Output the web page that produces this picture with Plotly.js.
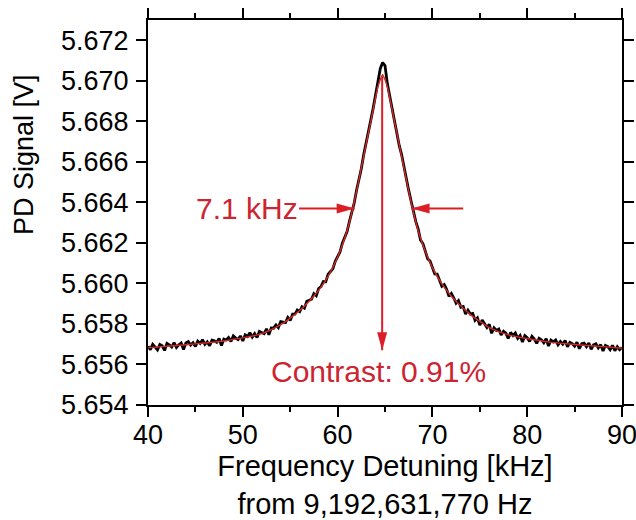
<!DOCTYPE html>
<html>
<head>
<meta charset="utf-8">
<script src="https://cdn.plot.ly/plotly-3.0.1.min.js"></script>
<style>
  html, body { margin: 0; padding: 0; background: #ffffff; }
  #chart { width: 636px; height: 520px; }
</style>
</head>
<body>
<div id="chart"></div>
<script>
// ---- measured data (black trace) ----
const freqKHz = [
  40,40.25,40.5,40.75,41,41.25,41.5,41.75,42,42.25,42.5,42.75,43,43.25,43.5,43.75,44,44.25,44.5,44.75,
  45,45.25,45.5,45.75,46,46.25,46.5,46.75,47,47.25,47.5,47.75,48,48.25,48.5,48.75,49,49.25,49.5,49.75,
  50,50.25,50.5,50.75,51,51.25,51.5,51.75,52,52.25,52.5,52.75,53,53.25,53.5,53.75,54,54.25,54.5,54.75,
  55,55.25,55.5,55.75,56,56.25,56.5,56.75,57,57.25,57.5,57.75,58,58.25,58.5,58.75,59,59.25,59.5,59.75,
  60,60.25,60.5,60.75,61,61.25,61.5,61.75,62,62.25,62.5,62.75,63,63.25,63.5,63.75,64,64.25,64.5,64.75,
  65,65.25,65.5,65.75,66,66.25,66.5,66.75,67,67.25,67.5,67.75,68,68.25,68.5,68.75,69,69.25,69.5,69.75,
  70,70.25,70.5,70.75,71,71.25,71.5,71.75,72,72.25,72.5,72.75,73,73.25,73.5,73.75,74,74.25,74.5,74.75,
  75,75.25,75.5,75.75,76,76.25,76.5,76.75,77,77.25,77.5,77.75,78,78.25,78.5,78.75,79,79.25,79.5,79.75,
  80,80.25,80.5,80.75,81,81.25,81.5,81.75,82,82.25,82.5,82.75,83,83.25,83.5,83.75,84,84.25,84.5,84.75,
  85,85.25,85.5,85.75,86,86.25,86.5,86.75,87,87.25,87.5,87.75,88,88.25,88.5,88.75,89,89.25,89.5,89.75,
  90
];
const pdSignalV = [
  5.65690,5.65673,5.65699,5.65687,5.65672,5.65699,5.65692,5.65669,5.65704,5.65697,5.65686,5.65708,5.65684,5.65697,5.65706,5.65674,5.65706,5.65713,5.65696,5.65707,
  5.65689,5.65715,5.65704,5.65722,5.65699,5.65712,5.65692,5.65720,5.65717,5.65709,5.65728,5.65694,5.65725,5.65721,5.65733,5.65713,5.65741,5.65730,5.65723,5.65741,
  5.65716,5.65746,5.65738,5.65757,5.65735,5.65752,5.65733,5.65763,5.65757,5.65752,5.65776,5.65747,5.65780,5.65779,5.65795,5.65782,5.65812,5.65809,5.65807,5.65832,
  5.65817,5.65848,5.65848,5.65869,5.65861,5.65885,5.65878,5.65912,5.65916,5.65922,5.65950,5.65939,5.65975,5.65984,5.66009,5.66008,5.66045,5.66059,5.66072,5.66109,
  5.66134,5.66155,5.66198,5.66223,5.66256,5.66306,5.66352,5.66397,5.66460,5.66512,5.66566,5.66635,5.66688,5.66737,5.66806,5.66864,5.66923,5.66982,5.67060,5.67090,
  5.67075,5.66985,5.66921,5.66857,5.66805,5.66742,5.66681,5.66636,5.66573,5.66505,5.66459,5.66407,5.66347,5.66305,5.66268,5.66214,5.66197,5.66163,5.66122,5.66110,
  5.66082,5.66047,5.66046,5.66018,5.65986,5.65994,5.65971,5.65936,5.65950,5.65929,5.65902,5.65915,5.65882,5.65886,5.65849,5.65868,5.65849,5.65852,5.65818,5.65830,
  5.65794,5.65819,5.65802,5.65782,5.65798,5.65754,5.65781,5.65768,5.65775,5.65746,5.65764,5.65755,5.65728,5.65758,5.65743,5.65755,5.65729,5.65743,5.65711,5.65742,
  5.65732,5.65714,5.65739,5.65725,5.65704,5.65729,5.65722,5.65707,5.65727,5.65691,5.65720,5.65711,5.65721,5.65697,5.65713,5.65700,5.65719,5.65687,5.65709,5.65703,
  5.65690,5.65710,5.65678,5.65702,5.65705,5.65688,5.65706,5.65675,5.65697,5.65702,5.65682,5.65698,5.65667,5.65694,5.65688,5.65673,5.65694,5.65668,5.65688,5.65673,
  5.65684
];

// ---- Lorentzian-like fit (red trace) ----
const fitFreqKHz = [
  40,42,44,46,48,50,52,54,55,56,57,58,59,60,60.5,61,61.5,62,62.5,63,63.5,64,64.25,64.5,64.75,
  65,65.25,65.5,66,66.5,67,67.5,68,68.5,69,69.5,70,71,72,73,74,75,76,78,80,82,84,86,88,90
];
const fitSignalV = [
  5.65682,5.65690,5.65697,5.65706,5.65716,5.65731,5.65752,5.65797,5.65829,5.65866,5.65912,5.65966,5.66035,5.66130,5.66190,5.66260,5.66350,5.66455,5.66570,5.66685,5.66800,5.66915,5.66970,5.67005,5.67030,
  5.67005,5.66970,5.66915,5.66800,5.66685,5.66570,5.66455,5.66350,5.66260,5.66190,5.66130,5.66078,5.65998,5.65937,5.65888,5.65846,5.65813,5.65782,5.65746,5.65728,5.65713,5.65703,5.65695,5.65688,5.65680
];

// ---- annotation anchors ----
const peakKHz = 64.7;
const peakV = 5.6703;
const arrowBottomV = 5.6567;
const halfMaxV = 5.6637;
const fwhmLeftKHz = 61.8;
const fwhmRightKHz = 67.8;
const widthLabelKHz = 50.4;
const rightArrowTailKHz = 73.4;
const contrastLabelKHz = 64.3;
const contrastLabelV = 5.65563;

// ---- tick labels ----
const xTicks = [40, 50, 60, 70, 80, 90];
const yTicks = [5.654, 5.656, 5.658, 5.660, 5.662, 5.664, 5.666, 5.668, 5.670, 5.672];
const yTickText = ['5.654','5.656','5.658','5.660','5.662','5.664','5.666','5.668','5.670','5.672'];

const FONT = 'Liberation Sans, Arial, Helvetica, sans-serif';
const RED = '#dc1e26';
const RED_TEXT = '#cc2430';

const traces = [
  {
    x: freqKHz, y: pdSignalV, type: 'scatter', mode: 'lines',
    line: { color: '#000000', width: 2.8 }, name: 'PD signal', hoverinfo: 'skip'
  },
  {
    x: fitFreqKHz, y: fitSignalV, type: 'scatter', mode: 'lines',
    line: { color: '#d42a2a', width: 1.4, shape: 'spline', smoothing: 0.6 }, name: 'Fit', hoverinfo: 'skip'
  }
];

const layout = {
  width: 636, height: 520,
  margin: { l: 148, r: 14, t: 20, b: 115 },
  paper_bgcolor: '#ffffff', plot_bgcolor: '#ffffff',
  showlegend: false,
  font: { family: FONT, color: '#000000' },
  xaxis: {
    range: [40, 90], tickvals: xTicks, ticktext: xTicks.map(String),
    ticks: 'outside', ticklen: 10, tickwidth: 2, tickcolor: '#000',
    minor: { dtick: 5, tick0: 40, ticks: 'outside', ticklen: 5, tickwidth: 2, tickcolor: '#000' },
    showline: true, linewidth: 2, linecolor: '#000', mirror: 'allticks',
    showgrid: false, zeroline: false,
    ticklabeloverflow: 'allow',
    ticklabelstandoff: -5,
    tickfont: { family: FONT, size: 27, color: '#000' },
    title: { text: 'Frequency Detuning [kHz]<br>from 9,192,631,770 Hz', font: { family: FONT, size: 29, color: '#000' }, standoff: 12 }
  },
  yaxis: {
    range: [5.654, 5.673], tickvals: yTicks, ticktext: yTickText,
    ticks: 'outside', ticklen: 10, tickwidth: 2, tickcolor: '#000',
    showline: true, linewidth: 2, linecolor: '#000', mirror: 'allticks',
    showgrid: false, zeroline: false,
    ticklabeloverflow: 'allow',
    tickfont: { family: FONT, size: 27, color: '#000' },
    ticklabelstandoff: 2
  },
  annotations: [
    {
      text: 'PD Signal [V]', xref: 'paper', yref: 'paper', x: -0.263, y: 0.65,
      textangle: -90, showarrow: false, xanchor: 'center', yanchor: 'middle',
      font: { family: FONT, size: 27, color: '#000' }
    },
    {
      text: '7.1 kHz', xref: 'x', yref: 'y', x: fwhmLeftKHz, y: halfMaxV,
      axref: 'x', ayref: 'y', ax: widthLabelKHz, ay: halfMaxV,
      showarrow: true, arrowhead: 0, arrowwidth: 2, arrowcolor: RED,
      font: { family: FONT, size: 30, color: RED_TEXT }
    },
    {
      text: '', xref: 'x', yref: 'y', x: fwhmRightKHz, y: halfMaxV,
      axref: 'x', ayref: 'y', ax: rightArrowTailKHz, ay: halfMaxV,
      showarrow: true, arrowhead: 0, arrowwidth: 2, arrowcolor: RED
    },
    {
      text: '', xref: 'x', yref: 'y', x: peakKHz, y: arrowBottomV,
      axref: 'x', ayref: 'y', ax: peakKHz, ay: peakV,
      showarrow: true, arrowhead: 0, arrowwidth: 2, arrowcolor: RED
    },
    {
      text: 'Contrast: 0.91%', xref: 'x', yref: 'y', x: contrastLabelKHz, y: contrastLabelV,
      showarrow: false, font: { family: FONT, size: 30, color: RED_TEXT }
    }
  ],
  shapes: [
    { type: 'path', xref: 'x', yref: 'y', xsizemode: 'pixel', ysizemode: 'pixel',
      xanchor: fwhmLeftKHz, yanchor: halfMaxV, path: 'M0,0 L-18,5 L-18,-5 Z',
      fillcolor: RED, line: { width: 0 } },
    { type: 'path', xref: 'x', yref: 'y', xsizemode: 'pixel', ysizemode: 'pixel',
      xanchor: fwhmRightKHz, yanchor: halfMaxV, path: 'M0,0 L18,5 L18,-5 Z',
      fillcolor: RED, line: { width: 0 } },
    { type: 'path', xref: 'x', yref: 'y', xsizemode: 'pixel', ysizemode: 'pixel',
      xanchor: peakKHz, yanchor: arrowBottomV, path: 'M0,0 L-5,18 L5,18 Z',
      fillcolor: RED, line: { width: 0 } }
  ]
};

Plotly.newPlot('chart', traces, layout, { staticPlot: true, displayModeBar: false });
</script>
</body>
</html>
